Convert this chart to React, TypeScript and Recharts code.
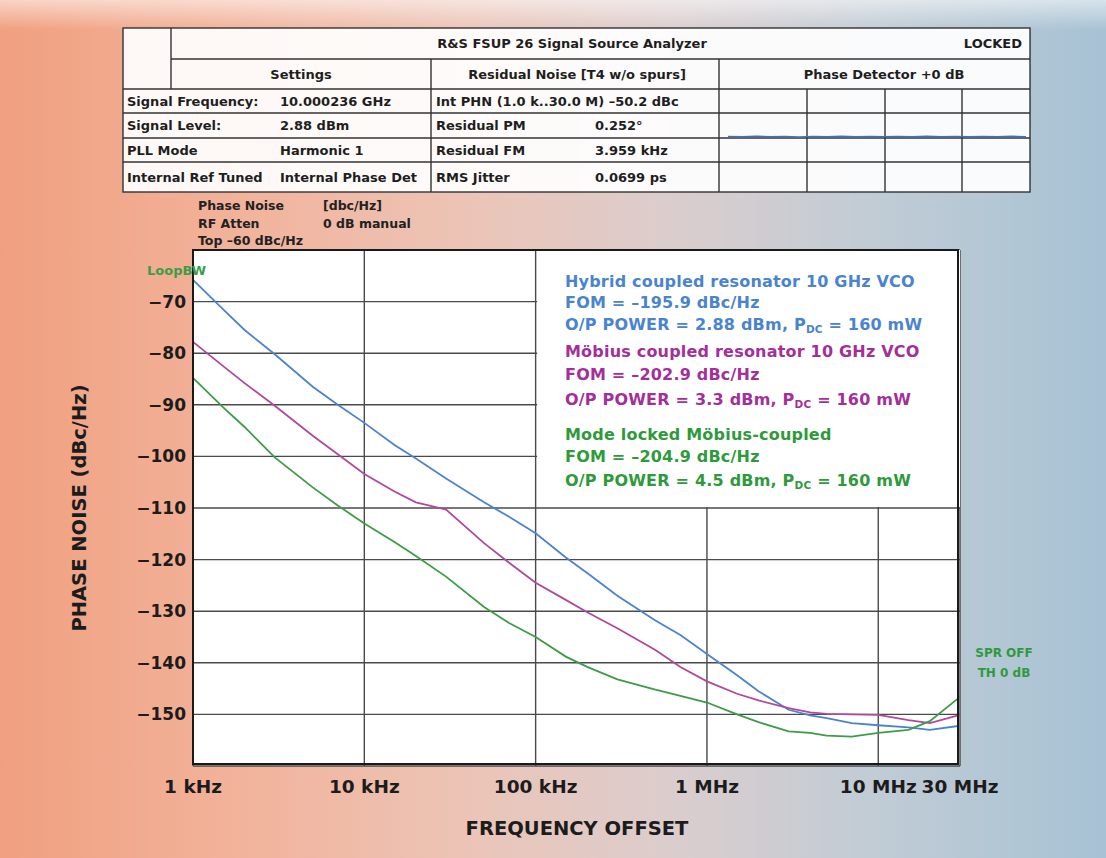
import React from 'react';
import { LineChart, Line, XAxis, YAxis, CartesianGrid, ReferenceArea } from 'recharts';

// offset frequencies (Hz) and phase noise readings (dBc/Hz)
const freqs = [1e3, 1.5e3, 2e3, 3e3, 5e3, 7e3, 1e4, 1.5e4, 2e4, 3e4, 5e4, 7e4, 1e5, 1.5e5, 2e5, 3e5, 5e5, 7e5, 1e6, 1.5e6, 2e6, 3e6, 4e6, 5e6, 7e6, 1e7, 1.5e7, 2e7, 3e7];
const hybrid = [-65.8, -71.5, -75.5, -80.2, -86.5, -90, -93.5, -97.8, -100.4, -104.3, -108.9, -111.7, -114.9, -119.6, -122.6, -127, -131.8, -134.6, -138.3, -142.4, -145.5, -149.1, -150.2, -150.7, -151.7, -152.1, -152.5, -153, -152.2];
const mobius = [-77.8, -82.5, -85.8, -90.2, -96, -99.6, -103.4, -106.8, -108.9, -110.3, -116.8, -120.6, -124.5, -127.8, -130.2, -133.3, -137.5, -140.8, -143.6, -146, -147.3, -148.8, -149.6, -149.9, -150, -150.1, -151.1, -151.7, -150.1];
const modeLocked = [-84.8, -90.5, -94.3, -100.2, -106, -109.5, -113, -116.6, -119.3, -123.3, -129.2, -132.3, -135, -138.8, -140.8, -143.2, -145.2, -146.4, -147.7, -150, -151.5, -153.3, -153.6, -154.1, -154.3, -153.6, -153, -151.3, -146.6];

const xTicks = [1e3, 1e4, 1e5, 1e6, 1e7, 3e7];
const xTickLabels = ['1 kHz', '10 kHz', '100 kHz', '1 MHz', '10 MHz', '30 MHz'];
const yTicks = [-150, -140, -130, -120, -110, -100, -90, -80, -70];

// phase detector trace in the header table (dB around 0)
const detectorTrace = [0.3, 0.1, 0.4, 0.2, 0.3, 0.0, 0.3, 0.2, 0.4, 0.1, 0.3, 0.2, 0.3, 0.1, 0.4, 0.2, 0.3, 0.1, 0.3, 0.2, 0.4, 0.1];

const rows = freqs.map((f, i) => ({ f, hybrid: hybrid[i], mobius: mobius[i], modeLocked: modeLocked[i] }));
const detRows = detectorTrace.map((v, i) => ({ i, v }));

const FONT = '"DejaVu Sans", sans-serif';
const BLUE = '#4a84cf';
const MAGENTA = '#b1479f';
const GREEN = '#3c9c48';

const tableRows = [
  ['Signal Frequency:', '10.000236 GHz', 'Int PHN (1.0 k..30.0 M) \u201350.2 dBc', ''],
  ['Signal Level:', '2.88 dBm', 'Residual PM', '0.252\u00b0'],
  ['PLL Mode', 'Harmonic 1', 'Residual FM', '3.959 kHz'],
  ['Internal Ref Tuned', 'Internal Phase Det', 'RMS Jitter', '0.0699 ps'],
];

const HeaderTable = () => {
  const L = 123, C1 = 171, C2 = 431, C3 = 719, D1 = 807, D2 = 885, D3 = 962, R = 1030;
  const T = 28, R1 = 59, R2 = 89, RY = [89, 113, 138, 162, 192];
  const ln = { stroke: '#333', strokeWidth: 1.4 };
  const txt = { fontFamily: FONT, fontWeight: 700, fontSize: 13, fill: '#1e1e1e' } as const;
  return (
    <svg width={1106} height={200} style={{ position: 'absolute', left: 0, top: 0 }}>
      <rect x={L} y={T} width={R - L} height={192 - T} fill="#fff" fillOpacity={0.92} {...ln} />
      <line x1={C1} y1={T} x2={C1} y2={R2} {...ln} />
      <line x1={C1} y1={R1} x2={R} y2={R1} {...ln} />
      {RY.slice(0, 4).map((y) => <line key={y} x1={L} y1={y} x2={R} y2={y} {...ln} />)}
      <line x1={C2} y1={R1} x2={C2} y2={192} {...ln} />
      <line x1={C3} y1={R1} x2={C3} y2={192} {...ln} />
      {[D1, D2, D3].map((x) => <line key={x} x1={x} y1={R2} x2={x} y2={192} {...ln} />)}
      <text x={572} y={48} textAnchor="middle" {...txt}>R&amp;S FSUP 26 Signal Source Analyzer</text>
      <text x={1022} y={48} textAnchor="end" {...txt}>LOCKED</text>
      <text x={301} y={79} textAnchor="middle" {...txt}>Settings</text>
      <text x={577} y={79} textAnchor="middle" {...txt}>Residual Noise [T4 w/o spurs]</text>
      <text x={884} y={79} textAnchor="middle" {...txt}>Phase Detector +0 dB</text>
      {tableRows.map((r, i) => {
        const y = (RY[i] + RY[i + 1]) / 2 + 4.5;
        return (
          <g key={i}>
            <text x={127} y={y} {...txt}>{r[0]}</text>
            <text x={280} y={y} {...txt}>{r[1]}</text>
            <text x={436} y={y} {...txt}>{r[2]}</text>
            <text x={595} y={y} {...txt}>{r[3]}</text>
          </g>
        );
      })}
    </svg>
  );
};

const legendLines = [
  { t: 'Hybrid coupled resonator 10 GHz VCO', c: BLUE, y: 282 },
  { t: 'FOM = \u2013195.9 dBc/Hz', c: BLUE, y: 303 },
  { t: 'O/P POWER = 2.88 dBm, ', c: BLUE, y: 325, pdc: true },
  { t: 'M\u00f6bius coupled resonator 10 GHz VCO', c: '#a3309a', y: 352 },
  { t: 'FOM = \u2013202.9 dBc/Hz', c: '#a3309a', y: 375 },
  { t: 'O/P POWER = 3.3 dBm, ', c: '#a3309a', y: 400, pdc: true },
  { t: 'Mode locked M\u00f6bius-coupled', c: '#2f9a3c', y: 435 },
  { t: 'FOM = \u2013204.9 dBc/Hz', c: '#2f9a3c', y: 457 },
  { t: 'O/P POWER = 4.5 dBm, ', c: '#2f9a3c', y: 481, pdc: true },
];

const App = () => (
  <div
    style={{
      position: 'absolute', left: 0, top: 0, width: 1106, height: 858, overflow: 'hidden',
      background: 'linear-gradient(90deg, #f0a080 0%, #f2b39b 22%, #ecc4b6 42%, #dccdcd 60%, #c2ccd5 78%, #a7c2d4 100%)',
      fontFamily: FONT,
    }}
  >
    <div style={{ position: 'absolute', left: 0, top: 0, width: 1106, height: 30, background: 'linear-gradient(180deg, rgba(255,255,255,0.55), rgba(255,255,255,0))' }} />
    <HeaderTable />
    <div style={{ position: 'absolute', left: 728, top: 129 }}>
      <LineChart width={298} height={16} data={detRows} margin={{ top: 0, right: 0, bottom: 0, left: 0 }}>
        <XAxis dataKey="i" hide />
        <YAxis hide domain={[-4, 4]} />
        <Line type="linear" dataKey="v" stroke="#3f6fc6" strokeWidth={1.4} dot={false} isAnimationActive={false} />
      </LineChart>
    </div>

    <div style={{ position: 'absolute', left: 198, top: 197, fontSize: 12.5, fontWeight: 700, color: '#222', lineHeight: '17.5px', whiteSpace: 'nowrap' }}>
      <div>Phase Noise<span style={{ position: 'absolute', left: 125 }}>[dbc/Hz]</span></div>
      <div>RF Atten<span style={{ position: 'absolute', left: 125 }}>0 dB manual</span></div>
      <div>Top {'\u2013'}60 dBc/Hz</div>
    </div>

    <LineChart width={1106} height={858} data={rows} margin={{ top: 250, right: 146, bottom: 52, left: 113 }}>
      <CartesianGrid fill="#fff" stroke="#4a4a4a" strokeWidth={1.4} />
      <XAxis
        dataKey="f" type="number" scale="log" domain={[1e3, 3e7]} ticks={xTicks} height={40}
        axisLine={false} tickLine={false} tickSize={0} tickMargin={14} interval={0}
        tickFormatter={(v: number) => xTickLabels[xTicks.indexOf(v)] ?? ''}
        tick={{ fill: '#1c1c1c', fontSize: 18.5, fontWeight: 700, fontFamily: FONT }}
      />
      <YAxis
        type="number" domain={[-160, -60]} ticks={yTicks} width={80}
        axisLine={false} tickLine={false} tickSize={0} tickMargin={7} interval={0}
        tickFormatter={(v: number) => `\u2212${Math.abs(v)}`}
        tick={{ fill: '#1c1c1c', fontSize: 17, fontWeight: 700, fontFamily: FONT }}
      />
      <ReferenceArea x1={1.02e5} x2={3e7} y1={-109.8} y2={-60} fill="#fff" fillOpacity={1} stroke="none" ifOverflow="hidden" />
      <Line type="linear" dataKey="hybrid" stroke={BLUE} strokeWidth={1.8} dot={false} isAnimationActive={false} />
      <Line type="linear" dataKey="mobius" stroke={MAGENTA} strokeWidth={1.8} dot={false} isAnimationActive={false} />
      <Line type="linear" dataKey="modeLocked" stroke={GREEN} strokeWidth={1.8} dot={false} isAnimationActive={false} />
    </LineChart>

    <div style={{ position: 'absolute', left: 193, top: 250, width: 767, height: 516, border: '2px solid #1a1a1a', boxSizing: 'border-box', transform: 'translate(-1px,-1px)', pointerEvents: 'none' }} />

    {legendLines.map((l) => (
      <div key={l.t + l.y} style={{ position: 'absolute', left: 565, top: l.y - 11, height: 22, lineHeight: '22px', fontSize: 16, fontWeight: 700, color: l.c, letterSpacing: 0.2, whiteSpace: 'nowrap' }}>
        {l.t}
        {l.pdc && (
          <span>P<sub style={{ fontSize: 10.5, verticalAlign: -3 }}>DC</sub> = 160 mW</span>
        )}
      </div>
    ))}

    <div style={{ position: 'absolute', left: 147, top: 263, fontSize: 13, fontWeight: 700, color: GREEN }}>LoopBW</div>
    <div style={{ position: 'absolute', left: 969, top: 643, fontSize: 12, fontWeight: 700, color: '#2f9a3c', lineHeight: '20px', textAlign: 'center', width: 70 }}>
      <div>SPR OFF</div>
      <div>TH 0 dB</div>
    </div>

    <div style={{ position: 'absolute', left: 80 - 160, top: 508 - 12, width: 320, height: 24, lineHeight: '24px', textAlign: 'center', transform: 'rotate(-90deg)', fontSize: 19.5, fontWeight: 700, color: '#1c1c1c' }}>
      PHASE NOISE (dBc/Hz)
    </div>
    <div style={{ position: 'absolute', left: 377, top: 817, width: 400, textAlign: 'center', fontSize: 19.5, fontWeight: 700, color: '#1c1c1c' }}>
      FREQUENCY OFFSET
    </div>
  </div>
);

export default App;
